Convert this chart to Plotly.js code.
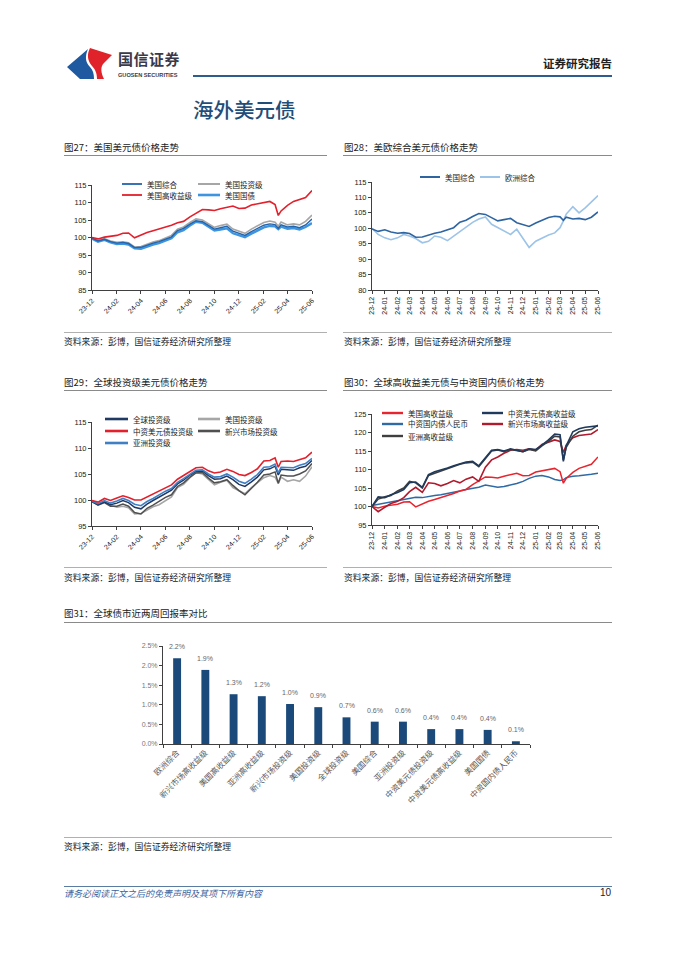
<!DOCTYPE html>
<html><head><meta charset="utf-8">
<script src="https://cdn.plot.ly/plotly-3.0.1.min.js"></script>
<style>
body{margin:0;background:#fff;}
#page{position:relative;width:677px;height:957px;overflow:hidden;font-family:"Noto Sans CJK SC","Liberation Sans",sans-serif;background:#fff;}
.t{position:absolute;line-height:1;white-space:nowrap;}
.ct{position:absolute;font-size:9.5px;color:#222;line-height:1;white-space:nowrap;}
.src{position:absolute;font-size:8.8px;color:#222;line-height:1;white-space:nowrap;}
.hl{position:absolute;height:0;border-top:1px solid #8a8a8a;}
.hl2{position:absolute;height:0;border-top:1px solid #b0b0b0;}
.chart{position:absolute;}
</style></head><body><div id="page">

<svg class="t" style="left:0;top:0" width="677" height="100">
  <path d="M67,67 L88,49 C85,56 85,62 90,67 C93,70 94,74 94,79 L80,79 Z" fill="#1f5aa0"/>
  <path d="M90,48 L112,55 L104,63 C100,67 101,73 104,79 L97,79 C97,73 95,69 92,66 C87,60 87,54 90,48 Z" fill="#e0232b"/>
</svg>
<div class="t" style="left:118px;top:51px;font-size:15px;font-weight:bold;color:#3a3a4a;letter-spacing:0.5px;">国信证券</div>
<div class="t" style="left:118px;top:73px;font-size:5.6px;font-weight:bold;color:#3a3a4a;font-family:'Liberation Sans',sans-serif;">GUOSEN SECURITIES</div>
<div class="t" style="right:65px;top:58px;font-size:11.5px;font-weight:bold;color:#222;">证券研究报告</div>
<div class="t" style="left:193px;top:75px;width:419px;height:2px;background:#2d5d8f;"></div>
<div class="t" style="left:193px;top:99px;font-size:20.5px;color:#1f4e79;font-weight:500;">海外美元债</div>

<div class="ct" style="left:64px;top:143px;">图27：美国美元债价格走势</div>
<div class="hl" style="left:64px;top:155px;width:263px;"></div>
<div class="ct" style="left:344px;top:143px;">图28：美欧综合美元债价格走势</div>
<div class="hl" style="left:343px;top:155px;width:269px;"></div>
<div class="hl2" style="left:64px;top:332px;width:263px;"></div>
<div class="hl2" style="left:343px;top:332px;width:269px;"></div>
<div class="src" style="left:64px;top:338px;">资料来源：彭博，国信证券经济研究所整理</div>
<div class="src" style="left:344px;top:338px;">资料来源：彭博，国信证券经济研究所整理</div>

<div class="ct" style="left:64px;top:378px;">图29：全球投资级美元债价格走势</div>
<div class="hl" style="left:64px;top:390px;width:263px;"></div>
<div class="ct" style="left:344px;top:378px;">图30：全球高收益美元债与中资国内债价格走势</div>
<div class="hl" style="left:343px;top:390px;width:269px;"></div>
<div class="hl2" style="left:64px;top:567px;width:263px;"></div>
<div class="hl2" style="left:343px;top:567px;width:269px;"></div>
<div class="src" style="left:64px;top:574px;">资料来源：彭博，国信证券经济研究所整理</div>
<div class="src" style="left:344px;top:574px;">资料来源：彭博，国信证券经济研究所整理</div>

<div class="ct" style="left:64px;top:609px;">图31：全球债市近两周回报率对比</div>
<div class="hl" style="left:64px;top:622px;width:548px;"></div>
<div class="hl2" style="left:64px;top:837px;width:548px;"></div>
<div class="src" style="left:64px;top:843px;">资料来源：彭博，国信证券经济研究所整理</div>

<div class="t" style="left:64px;top:886px;width:548px;height:1px;background:#5a7ca0;"></div>
<div class="t" style="left:64px;top:889px;font-size:9px;font-style:italic;color:#3a64a0;">请务必阅读正文之后的免责声明及其项下所有内容</div>
<div class="t" style="right:66px;top:888px;font-size:10px;color:#222;font-family:'Liberation Sans',sans-serif;">10</div>

<div id="c27" class="chart" style="left:60px;top:160px;"></div>
<div id="c28" class="chart" style="left:340px;top:160px;"></div>
<div id="c29" class="chart" style="left:60px;top:395px;"></div>
<div id="c30" class="chart" style="left:340px;top:395px;"></div>
<div id="c31" class="chart" style="left:60px;top:630px;"></div>
</div>
<script>
// ---------- DATA ----------
const dates = ['2023-12-01','2023-12-16','2024-01-01','2024-01-16','2024-02-01','2024-02-16','2024-03-01','2024-03-16','2024-04-01','2024-04-16','2024-05-01','2024-05-16','2024-06-01','2024-06-16','2024-07-01','2024-07-16','2024-08-01','2024-08-16','2024-09-01','2024-09-16','2024-10-01','2024-10-16','2024-11-01','2024-11-16','2024-12-01','2024-12-16','2025-01-01','2025-01-16','2025-02-01','2025-02-16','2025-03-01','2025-03-09','2025-03-16','2025-04-01','2025-04-16','2025-05-01','2025-05-16','2025-06-01'];

const usAgg = [99.8,99.0,99.5,98.8,98.4,98.6,98.3,97.1,97.2,97.9,98.4,98.8,99.6,100.2,102.0,102.6,103.8,104.8,104.5,103.4,102.4,102.8,103.2,101.8,101.2,100.6,101.7,102.6,103.5,103.9,103.7,102.6,103.6,103.0,103.2,102.8,103.6,105.3];
const usIG = [99.8,99.2,99.7,99.0,98.6,98.8,98.5,97.3,97.4,98.1,98.7,99.1,99.9,100.6,102.4,103.0,104.3,105.3,105.0,103.9,102.9,103.4,103.8,102.4,101.8,101.2,102.4,103.4,104.3,104.7,104.4,103.2,104.4,103.6,103.9,103.6,104.6,106.4];
const usTsy = [99.7,98.8,99.3,98.6,98.1,98.3,98.0,96.9,96.8,97.5,98.0,98.4,99.2,99.8,101.5,102.1,103.4,104.5,104.2,103.0,102.0,102.3,102.6,101.2,100.6,100.1,101.1,102.0,102.9,103.3,103.2,102.4,103.1,102.5,102.7,102.3,103.0,104.1];
const usHY = [100.0,99.6,100.1,100.3,100.6,101.2,101.3,99.9,100.7,101.4,101.9,102.4,102.8,103.5,104.2,104.6,105.9,107.0,108.0,107.9,107.7,108.2,108.6,109.0,108.3,108.4,109.3,109.6,110.0,110.3,109.4,106.3,107.6,109.2,110.3,110.8,111.4,113.4];
const eurAgg = [100.0,98.0,96.9,96.3,96.9,98.0,97.5,96.7,95.3,95.8,97.5,97.1,96.0,97.5,98.9,100.2,101.9,103.0,103.7,101.3,100.2,99.1,98.0,99.7,96.9,93.8,95.8,96.9,97.8,98.5,100.2,102.4,104.6,107.0,105.0,106.6,108.4,110.6];

const globalIG = [99.7,99.1,99.6,99.1,99.4,99.9,99.5,98.6,98.3,99.2,99.9,100.6,101.3,101.9,103.1,103.8,104.8,105.5,105.6,104.7,104.0,104.1,104.6,103.9,103.0,102.6,103.5,104.4,105.8,106.0,106.5,104.8,105.9,105.8,105.7,106.2,106.5,107.6];
const cnIG = [99.9,99.6,100.3,99.9,100.4,100.8,100.5,100.0,100.0,100.6,101.1,101.8,102.4,102.9,104.0,104.7,105.6,106.2,106.3,105.6,105.2,105.4,105.9,105.5,104.9,104.7,105.3,106.0,107.5,107.6,108.1,106.3,107.4,107.5,107.4,107.8,108.1,109.2];
const asiaIG = [99.8,99.3,99.9,99.4,99.8,100.3,99.9,99.2,98.9,99.7,100.3,101.0,101.7,102.2,103.4,104.1,105.0,105.7,105.8,105.0,104.4,104.5,105.0,104.4,103.6,103.2,104.0,104.9,106.3,106.4,106.9,105.2,106.3,106.3,106.2,106.7,107.0,108.0];
const emIG = [99.7,99.0,99.5,98.8,98.8,99.2,98.8,97.6,97.3,98.4,99.0,99.7,100.5,101.0,102.6,103.3,104.4,105.2,105.3,104.2,103.3,103.5,103.9,102.8,101.8,101.0,102.2,103.4,104.8,105.0,105.4,103.2,104.8,104.6,104.6,105.0,105.6,107.0];

const cnHY = [100.0,102.6,102.4,103.2,103.8,104.6,106.4,106.6,105.2,108.6,109.4,109.8,110.4,111.0,111.6,112.0,112.2,111.0,113.2,115.2,115.4,115.0,115.6,115.2,114.8,115.6,115.4,116.6,118.0,119.6,119.4,112.2,116.4,120.2,121.0,121.4,121.5,121.8];
const asiaHY = [100.0,102.0,102.6,103.0,104.2,105.0,106.8,106.4,105.0,108.4,109.0,109.6,110.2,110.8,111.4,111.8,112.0,110.8,113.0,115.0,115.3,114.8,115.4,115.0,114.8,115.4,115.0,116.4,117.6,119.0,118.8,112.6,116.0,119.0,120.2,120.6,120.8,122.0];
const emHY = [100.0,98.6,99.8,100.8,101.4,102.4,104.0,105.2,103.8,106.4,106.2,105.6,106.2,107.0,106.4,107.4,108.0,106.8,110.6,112.6,113.4,114.4,115.2,115.4,115.2,115.6,115.2,116.8,117.4,118.0,117.6,114.6,116.6,118.6,119.2,119.4,119.6,120.8];
const cnRMB = [100.3,100.6,101.0,101.4,101.7,102.0,102.3,102.5,102.4,102.8,103.0,103.2,103.5,103.9,104.2,104.6,104.9,105.2,105.8,105.4,105.2,105.4,105.8,106.2,106.8,107.6,108.2,108.4,108.0,107.3,107.0,107.2,107.8,108.2,108.3,108.6,108.7,109.0];

const barCats = ['欧洲综合','新兴市场高收益级','美国高收益级','亚洲高收益级','新兴市场投资级','美国投资级','全球投资级','美国综合','亚洲投资级','中资美元债投资级','中资美元债高收益级','美国国债','中资国内债人民币'];
const barVals = [2.19,1.89,1.27,1.22,1.02,0.94,0.68,0.57,0.57,0.38,0.38,0.36,0.07];

// ---------- HELPERS ----------
const NUMF = '"Liberation Sans","Noto Sans CJK SC",sans-serif';
const CJKF = '"Noto Sans CJK SC","Liberation Sans",sans-serif';
const CFG = {staticPlot:true, displayModeBar:false};

function legendParts(items, plot){
  const px = v => (v - plot.x0) / plot.w;
  const py = v => (plot.y0 + plot.h - v) / plot.h;
  const shapes = [], anns = [];
  items.forEach(it => {
    shapes.push({type:'line', xref:'paper', yref:'paper', x0:px(it.x), x1:px(it.x+it.len), y0:py(it.y), y1:py(it.y), line:{color:it.color, width:it.lw}});
    anns.push({xref:'paper', yref:'paper', x:px(it.x+it.len+3), y:py(it.y), xanchor:'left', yanchor:'middle', showarrow:false, text:it.name, font:{size:7.5, color:'#222', family:CJKF}});
  });
  return {shapes, anns};
}

function tsChart(id, div, plot, series, yr, ydt, dtick, angle, legend){
  const traces = series.map(s => ({type:'scatter', mode:'lines', x:dates, y:s.y, name:s.name, line:{color:s.color, width:s.w}, hoverinfo:'skip'}));
  const lg = legendParts(legend, plot);
  const layout = {
    width:div.w, height:div.h,
    margin:{l:plot.x0-div.x, t:plot.y0-div.y, r:div.x+div.w-plot.x0-plot.w, b:div.y+div.h-plot.y0-plot.h, pad:0},
    paper_bgcolor:'rgba(0,0,0,0)', plot_bgcolor:'rgba(0,0,0,0)',
    showlegend:false, hovermode:false,
    font:{family:NUMF, size:7.5, color:'#222'},
    xaxis:{type:'date', range:['2023-12-01','2025-06-01'], tick0:'2023-12-01', dtick:dtick, tickformat:'%y-%m', tickangle:angle,
      showgrid:false, zeroline:false, showline:true, linecolor:'#404040', linewidth:1, ticks:'outside', ticklen:3, tickcolor:'#404040',
      tickfont:{size:7, family:NUMF, color:'#222'}, automargin:false},
    yaxis:{range:yr, dtick:ydt, tick0:0, showgrid:false, zeroline:false, showline:true, linecolor:'#404040', linewidth:1, ticks:'outside', ticklen:3, tickcolor:'#404040',
      tickfont:{size:7.5, family:NUMF, color:'#222'}, automargin:false},
    shapes:lg.shapes, annotations:lg.anns
  };
  Plotly.newPlot(id, traces, layout, CFG);
}

// ---------- Chart 27 ----------
const C27 = {
  '美国综合':{y:usAgg, color:'#2264ad', w:1.4},
  '美国投资级':{y:usIG, color:'#a6a6a6', w:1.6},
  '美国高收益级':{y:usHY, color:'#e3202b', w:1.6},
  '美国国债':{y:usTsy, color:'#3d95e0', w:2.4}
};
const s27order = ['美国投资级','美国国债','美国综合','美国高收益级'];
tsChart('c27', {x:60,y:160,w:270,h:175}, {x0:92,y0:185,w:220,h:105},
  s27order.map(n => Object.assign({name:n}, C27[n])), [85,115], 5, 'M2', -45,
  [
    {name:'美国综合', x:122, y:184, len:20, color:C27['美国综合'].color, lw:1.8},
    {name:'美国投资级', x:198, y:184, len:22, color:C27['美国投资级'].color, lw:2},
    {name:'美国高收益级', x:122, y:195, len:20, color:C27['美国高收益级'].color, lw:1.8},
    {name:'美国国债', x:198, y:195, len:22, color:C27['美国国债'].color, lw:2.6}
  ]);

// ---------- Chart 28 ----------
const C28 = {
  '美国综合':{y:usAgg, color:'#2e64a0', w:1.6},
  '欧洲综合':{y:eurAgg, color:'#9cc3e8', w:1.6}
};
tsChart('c28', {x:340,y:160,w:280,h:175}, {x0:372,y0:182,w:226,h:108},
  ['欧洲综合','美国综合'].map(n => Object.assign({name:n}, C28[n])), [80,115], 5, 'M1', -90,
  [
    {name:'美国综合', x:420, y:177, len:20, color:C28['美国综合'].color, lw:2},
    {name:'欧洲综合', x:480, y:177, len:20, color:C28['欧洲综合'].color, lw:2}
  ]);

// ---------- Chart 29 ----------
const C29 = {
  '全球投资级':{y:globalIG, color:'#1f3864', w:1.5},
  '美国投资级':{y:usIG, color:'#a6a6a6', w:1.6},
  '中资美元债投资级':{y:cnIG, color:'#e3202b', w:1.6},
  '新兴市场投资级':{y:emIG, color:'#505050', w:1.5},
  '亚洲投资级':{y:asiaIG, color:'#3f7fc4', w:1.6}
};
tsChart('c29', {x:60,y:395,w:270,h:170}, {x0:92,y0:422,w:220,h:104},
  ['美国投资级','新兴市场投资级','全球投资级','亚洲投资级','中资美元债投资级'].map(n => Object.assign({name:n}, C29[n])), [95,115], 5, 'M2', -45,
  [
    {name:'全球投资级', x:105, y:419, len:23, color:C29['全球投资级'].color, lw:2.6},
    {name:'美国投资级', x:198, y:419, len:22, color:C29['美国投资级'].color, lw:2.6},
    {name:'中资美元债投资级', x:105, y:431, len:23, color:C29['中资美元债投资级'].color, lw:2.6},
    {name:'新兴市场投资级', x:198, y:431, len:22, color:C29['新兴市场投资级'].color, lw:2.6},
    {name:'亚洲投资级', x:105, y:443, len:23, color:C29['亚洲投资级'].color, lw:2.6}
  ]);

// ---------- Chart 30 ----------
const C30 = {
  '美国高收益级':{y:usHY, color:'#e8242e', w:1.5},
  '中资美元债高收益级':{y:cnHY, color:'#1f3a5c', w:1.6},
  '中资国内债人民币':{y:cnRMB, color:'#2e6aa6', w:1.5},
  '新兴市场高收益级':{y:emHY, color:'#b01a2c', w:1.6},
  '亚洲高收益级':{y:asiaHY, color:'#3f3f3f', w:1.6}
};
tsChart('c30', {x:340,y:395,w:280,h:170}, {x0:372,y0:414,w:226,h:111},
  ['中资国内债人民币','美国高收益级','新兴市场高收益级','亚洲高收益级','中资美元债高收益级'].map(n => Object.assign({name:n}, C30[n])), [95,125], 5, 'M1', -90,
  [
    {name:'美国高收益级', x:382, y:413, len:21, color:C30['美国高收益级'].color, lw:2.4},
    {name:'中资美元债高收益级', x:482, y:413, len:21, color:C30['中资美元债高收益级'].color, lw:2.4},
    {name:'中资国内债人民币', x:382, y:424, len:21, color:C30['中资国内债人民币'].color, lw:2.4},
    {name:'新兴市场高收益级', x:482, y:424, len:21, color:C30['新兴市场高收益级'].color, lw:2.4},
    {name:'亚洲高收益级', x:382, y:436, len:21, color:C30['亚洲高收益级'].color, lw:2.4}
  ]);

// ---------- Chart 31 ----------
(function(){
  const div = {x:60,y:630,w:560,h:205}, plot = {x0:163,y0:646,w:367,h:98};
  const anns = barCats.map((c,i) => ({x:c, y:barVals[i], xref:'x', yref:'y', yanchor:'bottom', yshift:6, showarrow:false,
    text:barVals[i].toFixed(1)+'%', font:{size:7, color:'#666', family:NUMF}}));
  Plotly.newPlot('c31', [{type:'bar', x:barCats, y:barVals, marker:{color:'#1b4a7a'}, hoverinfo:'skip'}], {
    width:div.w, height:div.h,
    margin:{l:plot.x0-div.x, t:plot.y0-div.y, r:div.x+div.w-plot.x0-plot.w, b:div.y+div.h-plot.y0-plot.h, pad:0},
    paper_bgcolor:'rgba(0,0,0,0)', plot_bgcolor:'rgba(0,0,0,0)', showlegend:false, hovermode:false, bargap:0.72,
    xaxis:{type:'category', tickangle:-45, showgrid:false, zeroline:false, showline:true, linecolor:'#404040', linewidth:1,
      ticks:'outside', tickson:'boundaries', ticklen:3, tickcolor:'#404040', tickfont:{size:8, color:'#595959', family:CJKF}, automargin:false},
    yaxis:{range:[0,2.5], dtick:0.5, tickformat:'.1f', ticksuffix:'%', showgrid:false, zeroline:false, showline:true, linecolor:'#404040', linewidth:1,
      ticks:'outside', ticklen:3, tickcolor:'#404040', tickfont:{size:7, color:'#777', family:NUMF}, automargin:false},
    annotations:anns
  }, CFG);
})();
</script>
</body></html>
